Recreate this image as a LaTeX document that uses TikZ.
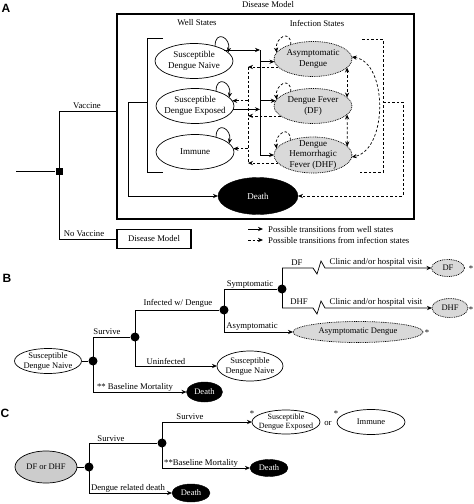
\documentclass[tikz,border=0pt]{standalone}
\usepackage{fontspec}
\setmainfont{Liberation Serif}
\newfontfamily\labfont{Liberation Sans}
\usetikzlibrary{shapes.geometric,arrows.meta}
\begin{document}
\begin{tikzpicture}[x=1pt,y=-1pt,
  ln/.style={line width=0.7pt},
  tip/.style={-{Stealth[length=5pt,width=4.2pt]}},
  tips/.style={{Stealth[length=5pt,width=4.2pt]}-{Stealth[length=5pt,width=4.2pt]}},
  arr/.style={ln,tip},
  dsh/.style={line width=0.7pt,dash pattern=on 2.6pt off 2pt},
  darr/.style={dsh,tip},
  shp/.style={ellipse,inner sep=0pt,outer sep=0pt},
  well/.style={shp,draw,line width=0.7pt},
  inf/.style={shp,draw,fill=gray!30,line width=0.7pt,dash pattern=on 0.9pt off 0.9pt},
  infs/.style={shp,draw,fill=gray!40,line width=0.7pt},
  dth/.style={shp,draw,fill=black},
  tx/.style={inner sep=0pt,align=center,font=\fontsize{9}{10.5}\selectfont},
  txs/.style={inner sep=0pt,align=center,font=\fontsize{8.5}{10}\selectfont},
  txc/.style={inner sep=0pt,align=center,font=\fontsize{8}{9.5}\selectfont},
  lab/.style={inner sep=0pt,font=\fontsize{8.7}{10}\selectfont},
  chance/.style={circle,fill=black,inner sep=0pt,minimum size=9pt},
  panel/.style={inner sep=0pt,font=\labfont\bfseries\fontsize{12}{12}\selectfont},
  thickbox/.style={draw,line width=1.6pt,inner sep=0pt},
]
\useasboundingbox (0,0) rectangle (474,504);

%================ Panel A ================
\node[panel] (pA) at (6,8) {A};
\node[lab] (tDM) at (268,5) {Disease Model};
\node[thickbox,minimum width=297pt,minimum height=205pt] (box) at (265.5,116.5) {};
\node[lab] (tWS) at (197,23) {Well States};
\node[lab] (tIS) at (317,23) {Infection States};

\node[well,minimum width=78pt,minimum height=35pt] (SDN) at (194,61) {};
\node[tx] (SDNt) at (SDN) {Susceptible\\Dengue Naive};
\node[well,minimum width=78pt,minimum height=35pt] (SDE) at (195,106) {};
\node[tx] (SDEt) at (SDE) {Susceptible\\Dengue Exposed};
\node[well,minimum width=78pt,minimum height=35pt] (IMM) at (195,152) {};
\node[tx] (IMMt) at (IMM) {Immune};
\node[dth,minimum width=80pt,minimum height=37pt] (DTH) at (258,196) {};
\node[tx,text=white] (DTHt) at (DTH) {Death};

\node[inf,minimum width=78pt,minimum height=35pt] (ASY) at (313,59) {};
\node[tx] (ASYt) at (ASY) {Asymptomatic\\Dengue};
\node[inf,minimum width=78pt,minimum height=35pt] (DF) at (313,106) {};
\node[tx] (DFt) at (DF) {Dengue Fever\\(DF)};
\node[inf,minimum width=78pt,minimum height=36pt] (DHF) at (313,155) {};
\node[tx] (DHFt) at (DHF) {Dengue\\Hemorrhagic\\Fever (DHF)};

% decision tree
\coordinate (st) at (16,171);
\node[fill=black,inner sep=0pt,minimum size=7pt] (dec) at (59,171) {};
\coordinate (vTop) at (59,111);
\coordinate (vBot) at (59,239);
\draw[ln] (st) -- (dec);
\draw[ln] (vTop) -- (vBot);
\draw[ln] (vTop) -- (box.west |- vTop);
\node[thickbox,minimum width=74pt,minimum height=19pt,lab] (DM2) at (154,239) {Disease Model};
\draw[ln] (vBot) -- (DM2.west);
\node[lab,anchor=south] (tV) at (87,109) {Vaccine};
\node[lab,anchor=south] (tNV) at (84,237) {No Vaccine};

% well-state bracket
\coordinate (bT) at (147,38);
\coordinate (bB) at (147,172);
\coordinate (bM) at (147,102);
\coordinate (bL) at (128,102);
\draw[ln] (163,38) -- (bT) -- (bB) -- (163,172);
\draw[arr] (bM) -- (bL) |- (DTH.west);

% self loops (well)
\draw[arr] (SDN.35) .. controls +(0,-17) and +(3,-15) .. (SDN.14);
\draw[arr] (SDE.35) .. controls +(0,-17) and +(3,-15) .. (SDE.14);
\draw[arr] (IMM.35) .. controls +(0,-17) and +(3,-15) .. (IMM.14);

% solid transitions from well states
\coordinate (bus) at (260,50);
\draw[ln] (bus) -- (260,155);
\draw[arr] (SDN.20) -- (SDN.20 -| bus);
\draw[arr] (SDE.-5) -- (SDE.-5 -| bus);
\draw[arr] (ASY.184 -| bus) -- (ASY.184);
\draw[arr] (DF.172 -| bus) -- (DF.172);
\draw[arr] (DHF.west -| bus) -- (DHF.west);

% dashed transitions from infection states
\coordinate (dbus) at (248,0);
\draw[dsh] (ASY.193 -| dbus) -- (DHF.193 -| dbus);
\draw[darr] (ASY.193) -- (ASY.193 -| dbus);
\draw[darr] (DF.197) -- (DF.197 -| dbus);
\draw[darr] (DHF.193) -- (DHF.193 -| dbus);
\draw[darr] (SDE.8 -| dbus) -- (SDE.8);
\draw[darr] (IMM.5 -| dbus) -- (IMM.5);

% infection self loops
\draw[darr] (ASY.147) .. controls +(0,-16) and +(-2,-15) .. (ASY.170);
\draw[darr] (DF.147) .. controls +(0,-16) and +(-2,-15) .. (DF.170);
\draw[darr] (DHF.147) .. controls +(0,-16) and +(-2,-15) .. (DHF.170);

% between infection states
\draw[dsh,tips] (ASY.-14) -- (DF.14);
\draw[dsh,tips] (DF.-14) -- (DHF.14);
\draw[dsh,tips] (ASY.3) .. controls (388,62) and (388,150) .. (DHF.-3);

% infection bracket to death
\draw[dsh] (362,39) -- (383,39) -- (383,172) -- (358,172);
\coordinate (ibm) at (383,102);
\draw[darr] (ibm) -- (403,102) |- (DTH.east);

% legend
\coordinate (lg1a) at (248,229);
\coordinate (lg1b) at (263,229);
\coordinate (lg2a) at (248,240);
\coordinate (lg2b) at (263,240);
\draw[arr] (lg1a) -- (lg1b);
\draw[darr] (lg2a) -- (lg2b);
\node[lab,anchor=west] (lgt1) at (268,229) {Possible transitions from well states};
\node[lab,anchor=west] (lgt2) at (268,240) {Possible transitions from infection states};

%================ Panel B ================
\node[panel] (pB) at (7,278) {B};
\node[well,minimum width=67pt,minimum height=25pt] (BS) at (48,361) {};
\node[txs] (BSt) at (BS) {Susceptible\\Dengue Naive};
\node[chance] (b1) at (93,361) {};
\draw[ln] (BS.east) -- (b1);
\coordinate (b1t) at (93,337);
\coordinate (b1b) at (93,392);
\draw[ln] (b1t) -- (b1b);
\node[chance] (b2) at (135,337) {};
\draw[ln] (b1t) -- (b2);
\node[lab] (lSurv) at (107,332) {Survive};
\node[dth,minimum width=36pt,minimum height=20pt] (BD) at (204.5,392) {};
\node[txs,text=white] (BDt) at (BD) {Death};
\draw[arr] (b1b) -- (BD.west);
\node[lab] (lBM) at (135,387) {** Baseline Mortality};

\coordinate (b2t) at (135,310);
\coordinate (b2b) at (135,366);
\draw[ln] (b2t) -- (b2b);
\node[chance] (b3) at (224,310) {};
\draw[ln] (b2t) -- (b3);
\node[lab] (lInf) at (178,303) {Infected w/ Dengue};
\node[well,minimum width=66pt,minimum height=30pt] (BS2) at (250,366) {};
\node[txs] (BS2t) at (BS2) {Susceptible\\Dengue Naive};
\draw[arr] (b2b) -- (BS2.west);
\node[lab] (lUn) at (166,361) {Uninfected};

\coordinate (b3t) at (224,289);
\coordinate (b3b) at (224,332);
\draw[ln] (b3t) -- (b3b);
\node[chance] (b4) at (282,289) {};
\draw[ln] (b3t) -- (b4);
\node[lab] (lSym) at (250,285) {Symptomatic};
\node[inf,minimum width=130pt,minimum height=21pt] (ASYB) at (358,332) {};
\node[txs] (ASYBt) at (ASYB) {Asymptomatic Dengue};
\draw[arr] (b3b) -- (ASYB.west);
\node[lab] (lAsy) at (252,327) {Asymptomatic};
\node[lab] (s1) at (427,333) {*};

\coordinate (b4t) at (282,268);
\coordinate (b4b) at (282,308);
\draw[ln] (b4t) -- (b4b);
\node[inf,minimum width=33pt,minimum height=17pt] (DFB) at (448,268) {};
\node[txs] (DFBt) at (DFB) {DF};
\node[inf,minimum width=36pt,minimum height=19pt] (DHFB) at (450,308) {};
\node[txs] (DHFBt) at (DHFB) {DHF};
\draw[arr] (b4t) -- (313,268) -- (317,274) -- (321,261) -- (325,268) -- (DFB.west);
\draw[arr] (b4b) -- (313,308) -- (317,314) -- (321,301) -- (325,308) -- (DHFB.west);
\node[lab] (lDF) at (297,263) {DF};
\node[lab] (lDHF) at (299,302) {DHF};
\node[lab] (lC1) at (376,262) {Clinic and/or hospital visit};
\node[lab] (lC2) at (376,302) {Clinic and/or hospital visit};
\node[lab] (s2) at (471,269) {*};
\node[lab] (s3) at (471,310) {*};

%================ Panel C ================
\node[panel] (pC) at (5,413) {C};
\node[infs,minimum width=62pt,minimum height=32pt] (CDH) at (46,467) {};
\node[txs] (CDHt) at (CDH) {DF or DHF};
\node[chance] (d1) at (89,467) {};
\draw[ln] (CDH.east) -- (d1);
\coordinate (d1t) at (89,443);
\coordinate (d1b) at (89,493);
\draw[ln] (d1t) -- (d1b);
\node[chance] (d2) at (162,443) {};
\draw[ln] (d1t) -- (d2);
\node[lab] (lS2) at (111,439) {Survive};
\coordinate (d2t) at (162,422);
\coordinate (d2b) at (162,468);
\draw[ln] (d2t) -- (d2b);
\node[well,minimum width=68pt,minimum height=24pt] (CE) at (286,422) {};
\node[txc] (CEt) at (CE) {Susceptible\\Dengue Exposed};
\draw[arr] (d2t) -- (CE.west);
\node[lab] (lS3) at (190,417) {Survive};
\node[lab] (s4) at (252,414) {*};
\node[lab] (lor) at (328,423) {or};
\node[lab] (s5) at (336,414) {*};
\node[well,minimum width=68pt,minimum height=25pt] (CI) at (371,422) {};
\node[txs] (CIt) at (CI) {Immune};
\node[dth,minimum width=38pt,minimum height=17pt] (CD1) at (269,468) {};
\node[txs,text=white] (CD1t) at (CD1) {Death};
\draw[arr] (d2b) -- (CD1.west);
\node[lab] (lBM2) at (201,463) {**Baseline Mortality};
\node[dth,minimum width=38pt,minimum height=18pt] (CD2) at (191,493) {};
\node[txs,text=white] (CD2t) at (CD2) {Death};
\draw[arr] (d1b) -- (CD2.west);
\node[lab] (lDR) at (128,488) {Dengue related death};
\end{tikzpicture}
\end{document}
